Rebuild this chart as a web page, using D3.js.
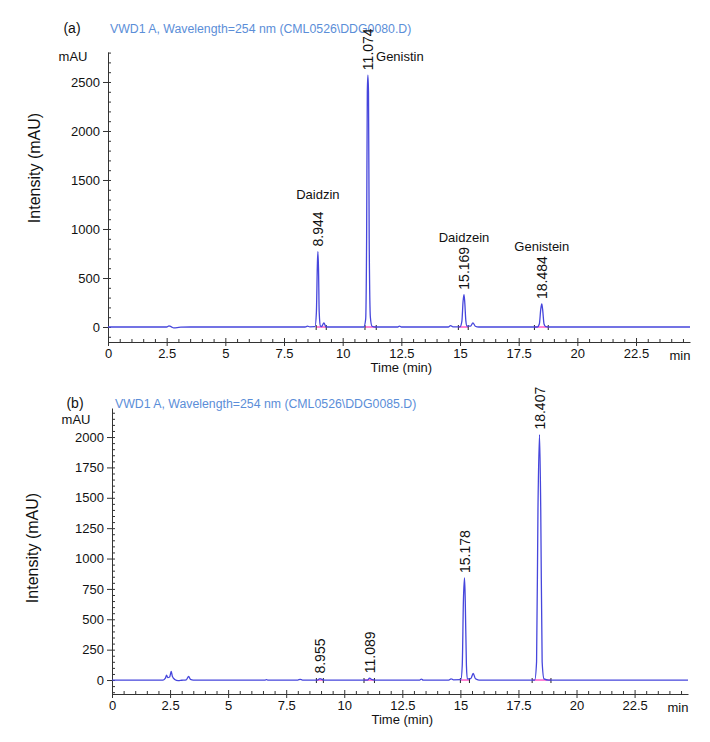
<!DOCTYPE html>
<html>
<head>
<meta charset="utf-8">
<script src="https://cdn.jsdelivr.net/npm/d3@7"></script>
<style>
  body { margin: 0; background: #fff; }
  svg { font-family: "Liberation Sans", Arial, sans-serif; }
</style>
</head>
<body>
<div id="chart"></div>
<script>
// chromatogram traces: [time (min), signal (mAU)]
const traceA = [
  [0, 0], [2.5, 0], [2.6, 12], [2.7, 2], [2.8, -8], [2.95, -6], [3.1, -2], [3.5, 0],
  [8.4, 0], [8.5, 8], [8.6, 2], [8.82, 3], [8.88, 150], [8.92, 620], [8.944, 770], [8.97, 600],
  [9.0, 150], [9.05, 10], [9.1, 5], [9.2, 42], [9.27, 8], [9.35, 0],
  [10.9, 0], [10.98, 80], [11.02, 900], [11.05, 2400], [11.074, 2570], [11.1, 2400],
  [11.13, 900], [11.18, 100], [11.25, 8], [11.4, 0],
  [12.35, 0], [12.42, 10], [12.5, 0], [14.5, 0], [14.6, 15], [14.7, 2],
  [15.0, 2], [15.08, 60], [15.13, 260], [15.169, 330], [15.2, 260], [15.25, 60], [15.3, 8],
  [15.45, 10], [15.55, 42], [15.65, 8], [15.8, 0],
  [18.3, 0], [18.38, 30], [18.44, 180], [18.484, 235], [18.52, 180], [18.58, 30], [18.65, 3],
  [18.8, 0], [24.8, 0]
];

const traceB = [
  [0, 0], [2.2, 0], [2.3, 15], [2.35, 40], [2.4, 20], [2.48, 25], [2.55, 70], [2.6, 30],
  [2.7, 5], [2.85, -5], [3.0, -2], [3.2, 2], [3.3, 30], [3.38, 5], [3.5, 0],
  [6.6, 0], [6.65, 4], [6.7, 0], [8.0, 0], [8.1, 6], [8.2, 0],
  [8.85, 0], [8.955, 12], [9.05, 4], [9.15, 0], [11.0, 0], [11.089, 15], [11.2, 3], [11.3, 0],
  [13.25, 0], [13.32, 7], [13.4, 0], [14.5, 0], [14.6, 10], [14.7, 2],
  [15.02, 3], [15.08, 120], [15.13, 650], [15.178, 840], [15.21, 650], [15.26, 120], [15.3, 10],
  [15.45, 12], [15.55, 55], [15.65, 10], [15.8, 0],
  [18.2, 0], [18.28, 150], [18.34, 1400], [18.407, 2020], [18.46, 1400], [18.52, 150],
  [18.6, 10], [18.8, 0], [24.8, 0]
];

// retention time labels: [label, time, peak height]
const peaksA = [["8.944", 8.944, 770], ["11.074", 11.074, 2570], ["15.169", 15.169, 330], ["18.484", 18.484, 235]];
const peaksB = [["8.955", 8.955, 12], ["11.089", 11.089, 15], ["15.178", 15.178, 840], ["18.407", 18.407, 2020]];

// compound names for panel (a), by retention time
const compoundsA = [["Daidzin", 8.944], ["Genistin", 11.074], ["Daidzein", 15.169], ["Genistein", 18.484]];

// integration windows [start, end] (min)
const integA = [[8.87, 9.3], [10.95, 11.43], [14.93, 15.35], [18.17, 18.76]];
const integB = [[8.8, 9.1], [10.85, 11.3], [15.0, 15.39], [18.09, 18.9]];

const xTicks = [0, 2.5, 5, 7.5, 10, 12.5, 15, 17.5, 20, 22.5];
const yTicksA = [0, 500, 1000, 1500, 2000, 2500];
const yTicksB = [0, 250, 500, 750, 1000, 1250, 1500, 1750, 2000];

const svg = d3.select("#chart").append("svg")
  .attr("width", 710).attr("height", 742);

const axisColor = "#333";

function drawPanel(p) {
  const g = svg.append("g");
  const x = d3.scaleLinear().domain([0, 24.8]).range([p.left, p.right]);
  const y = d3.scaleLinear().domain(p.yDomain).range([p.bottom, p.top]);

  // panel letter, title, unit
  g.append("text").attr("x", p.letterX).attr("y", p.titleY)
    .attr("text-anchor", "middle").style("font-size", "14px").attr("fill", "#111").text(p.letter);
  g.append("text").attr("x", p.titleX).attr("y", p.titleY)
    .style("font-size", "12.3px").attr("fill", "#5b8ed8").text(p.title);
  g.append("text").attr("x", p.letterX + 1).attr("y", p.unitY)
    .attr("text-anchor", "middle").style("font-size", "13px").attr("fill", "#111").text("mAU");

  // y axis
  const yMinor = d3.range(p.yMinorStart, p.yDomain[1], p.yMinorStep);
  g.append("g").attr("transform", `translate(${p.left},0)`)
    .call(d3.axisLeft(y).tickValues(yMinor).tickSize(3).tickFormat(""))
    .call(s => s.select(".domain").remove())
    .call(s => s.selectAll(".tick line").attr("x2", 3).attr("stroke", axisColor));
  g.append("g").attr("transform", `translate(${p.left},0)`)
    .call(d3.axisLeft(y).tickValues(p.yTicks).tickSize(5).tickSizeOuter(0).tickPadding(3).tickFormat(d => String(d)))
    .call(s => s.select(".domain").attr("stroke", axisColor))
    .call(s => s.selectAll(".tick line").attr("stroke", axisColor))
    .call(s => s.selectAll(".tick text").style("font-size", "13px").attr("fill", "#111"));

  // x axis
  const xMinor = d3.range(0.5, 24.8, 0.5).filter(v => v % 2.5 !== 0);
  g.append("g").attr("transform", `translate(0,${p.bottom})`)
    .call(d3.axisBottom(x).tickValues(xMinor).tickSize(3).tickFormat(""))
    .call(s => s.select(".domain").remove())
    .call(s => s.selectAll(".tick line").attr("y1", -3).attr("y2", 0).attr("stroke", axisColor));
  g.append("g").attr("transform", `translate(0,${p.bottom})`)
    .call(d3.axisBottom(x).tickValues(xTicks).tickSize(4).tickSizeOuter(0).tickPadding(3).tickFormat(d => String(d)))
    .call(s => s.select(".domain").attr("stroke", axisColor))
    .call(s => s.selectAll(".tick line").attr("y1", -4).attr("stroke", axisColor))
    .call(s => s.selectAll(".tick text").style("font-size", "13px").attr("fill", "#111"));
  g.append("text").attr("x", p.right - 10).attr("y", p.bottom + 18)
    .attr("text-anchor", "middle").style("font-size", "13px").attr("fill", "#111").text("min");

  // axis titles
  g.append("text").attr("x", x(12.5)).attr("y", p.bottom + 30)
    .attr("text-anchor", "middle").style("font-size", "13px").attr("fill", "#111").text("Time (min)");
  g.append("text")
    .attr("transform", `translate(${p.yTitleX},${p.yTitleY}) rotate(-90)`)
    .attr("text-anchor", "middle").style("font-size", "16px").attr("fill", "#111")
    .text("Intensity (mAU)");

  // integration baselines
  g.selectAll(".integ").data(p.integ).enter().append("line")
    .attr("x1", d => x(d[0])).attr("x2", d => x(d[1]))
    .attr("y1", y(0)).attr("y2", y(0))
    .attr("stroke", "#ff66cc").attr("stroke-width", 1.6);
  g.selectAll(".imark").data(p.integ.flat()).enter().append("line")
    .attr("x1", d => x(d)).attr("x2", d => x(d))
    .attr("y1", y(0) - 2).attr("y2", y(0) + 3)
    .attr("stroke", "#222").attr("stroke-width", 1);

  // trace
  g.append("path").datum(p.trace)
    .attr("fill", "none").attr("stroke", "#4646dc").attr("stroke-width", 1.3)
    .attr("d", d3.line().x(d => x(d[0])).y(d => y(d[1])).curve(d3.curveMonotoneX));

  // retention time labels
  g.selectAll(".rt").data(p.peaks).enter().append("text")
    .attr("transform", d => `translate(${x(d[1]) + 5},${y(d[2]) - 5}) rotate(-90)`)
    .style("font-size", "14px").attr("fill", "#111").text(d => d[0]);

  // compound names: above the time label, or beside it when the peak is too tall
  if (p.compounds) {
    const peakH = new Map(p.peaks.map(d => [d[1], d[2]]));
    const nameY = d => y(peakH.get(d[1])) - 57;
    g.selectAll(".cmp").data(p.compounds).enter().append("text")
      .attr("x", d => nameY(d) < p.top ? x(d[1]) + 32 : x(d[1]))
      .attr("y", d => nameY(d) < p.top ? p.top + 9 : nameY(d) + 4)
      .attr("text-anchor", "middle").style("font-size", "13px").attr("fill", "#111").text(d => d[0]);
  }
}

drawPanel({
  left: 108, right: 690, top: 52, bottom: 342,
  yDomain: [-153, 2806], yTicks: yTicksA, yMinorStart: -100, yMinorStep: 100,
  trace: traceA, peaks: peaksA, compounds: compoundsA, integ: integA,
  letter: "(a)", letterX: 72, titleX: 110, titleY: 33, unitY: 61,
  title: "VWD1 A, Wavelength=254 nm (CML0526\\DDG0080.D)",
  yTitleX: 40, yTitleY: 168
});

drawPanel({
  left: 112, right: 688, top: 408, bottom: 694,
  yDomain: [-115, 2239], yTicks: yTicksB, yMinorStart: -100, yMinorStep: 50,
  trace: traceB, peaks: peaksB, compounds: null, integ: integB,
  letter: "(b)", letterX: 75, titleX: 115, titleY: 408, unitY: 424,
  title: "VWD1 A, Wavelength=254 nm (CML0526\\DDG0085.D)",
  yTitleX: 38, yTitleY: 548
});
</script>
</body>
</html>
